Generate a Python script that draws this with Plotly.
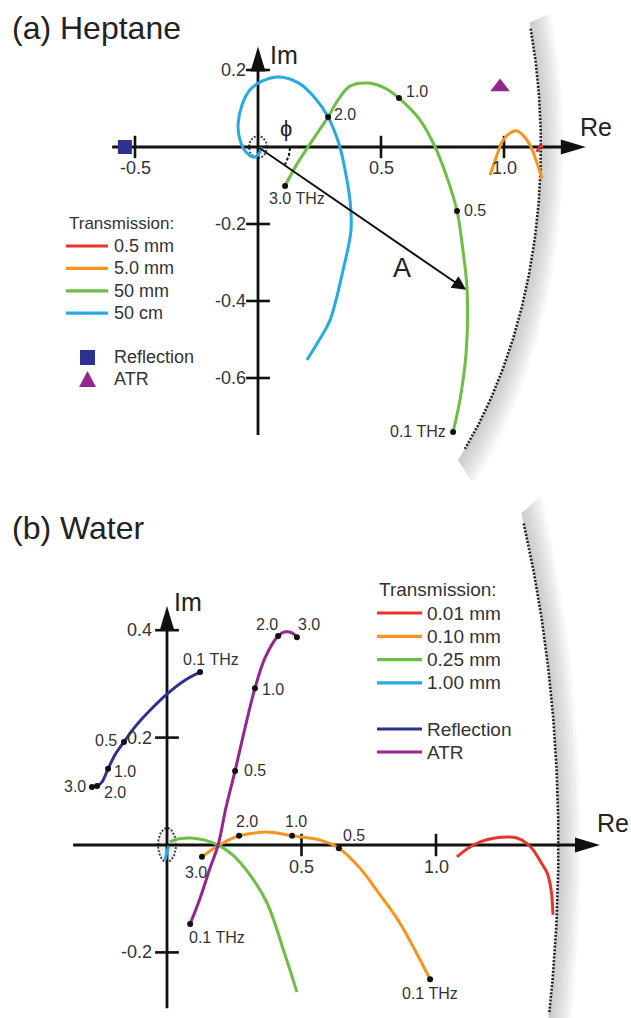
import numpy as np
import plotly.graph_objects as go

# ===================== DATA =====================
# ---- (a) Heptane : complex transfer function, Re / Im ----
A_T05MM_RE = [1.134, 1.142, 1.150, 1.159]
A_T05MM_IM = [-0.013, -0.003, 0.003, 0.000]

A_T5MM_RE = [0.943, 0.967, 0.992, 1.020, 1.049, 1.077, 1.106, 1.130, 1.154]
A_T5MM_IM = [-0.073, -0.029, 0.013, 0.034, 0.042, 0.031, 0.005, -0.034, -0.081]

A_T50MM_RE = [0.793, 0.821, 0.846, 0.850, 0.833, 0.809, 0.772, 0.720, 0.659, 0.573,
              0.516, 0.447, 0.374, 0.325, 0.285, 0.244, 0.203, 0.154, 0.110]
A_T50MM_IM = [-0.740, -0.657, -0.535, -0.371, -0.268, -0.166, -0.086, 0.000, 0.070, 0.127,
              0.153, 0.166, 0.158, 0.122, 0.078, 0.039, 0.000, -0.049, -0.101]

A_T50CM_RE = [0.199, 0.250, 0.293, 0.346, 0.378, 0.374, 0.350, 0.333, 0.309, 0.285, 0.232,
              0.171, 0.089, 0.016, -0.033, -0.065, -0.081, -0.073, -0.049, -0.016, 0.008, 0.012]
A_T50CM_IM = [-0.553, -0.500, -0.449, -0.319, -0.216, -0.138, -0.047, 0.000, 0.044, 0.078, 0.127,
              0.164, 0.182, 0.171, 0.148, 0.109, 0.057, 0.018, -0.013, -0.026, -0.013, 0.000]

A_DOT_RE = [0.793, 0.809, 0.573, 0.285, 0.110]
A_DOT_IM = [-0.740, -0.166, 0.127, 0.078, -0.101]
A_DOT_LBL = ["0.1 THz", "0.5", "1.0", "2.0", "3.0 THz"]

A_REFL_RE, A_REFL_IM = [-0.541], [0.0]
A_ATR_RE, A_ATR_IM = [0.984], [0.156]
A_VECTOR_TIP = [0.846, -0.371]          # "A" vector end point

A_RE_TICKS = [-0.5, 0.5, 1.0]
A_RE_TICK_LBL = ["-0.5", "0.5", "1.0"]
A_IM_TICKS = [0.2, -0.2, -0.4, -0.6]
A_IM_TICK_LBL = ["0.2", "-0.2", "-0.4", "-0.6"]
A_RE_AXIS = [-0.593, 1.30]
A_IM_AXIS = [-0.748, 0.24]
A_LIMIT_R = 1.15
A_LIMIT_DEG = [15.5, -43.0]

# ---- (b) Water ----
B_T001_RE = [1.078, 1.119, 1.164, 1.219, 1.264, 1.301, 1.335, 1.361, 1.390, 1.413, 1.428, 1.435]
B_T001_IM = [-0.022, -0.006, 0.006, 0.013, 0.015, 0.013, 0.004, -0.009, -0.032, -0.052, -0.084, -0.130]

B_T010_RE = [0.978, 0.922, 0.859, 0.792, 0.717, 0.639, 0.569, 0.465, 0.372, 0.268, 0.216, 0.190, 0.160, 0.130]
B_T010_IM = [-0.250, -0.196, -0.140, -0.093, -0.043, -0.006, 0.009, 0.017, 0.024, 0.017, 0.006, -0.002, -0.011, -0.022]

B_T025_RE = [0.483, 0.439, 0.372, 0.309, 0.245, 0.197, 0.141, 0.086, 0.041, 0.011]
B_T025_IM = [-0.274, -0.205, -0.108, -0.056, -0.019, -0.002, 0.009, 0.013, 0.011, 0.006]

B_T100_RE = [0.007, 0.000, -0.007]
B_T100_IM = [-0.002, -0.013, -0.028]

B_REFL_RE = [0.123, 0.067, 0.004, -0.063, -0.119, -0.160, -0.193, -0.219, -0.242, -0.260, -0.279]
B_REFL_IM = [0.322, 0.307, 0.283, 0.251, 0.220, 0.192, 0.168, 0.142, 0.117, 0.110, 0.108]

B_ATR_RE = [0.086, 0.123, 0.160, 0.190, 0.219, 0.253, 0.290, 0.327, 0.364, 0.413, 0.439, 0.465, 0.483]
B_ATR_IM = [-0.147, -0.099, -0.043, 0.000, 0.069, 0.138, 0.218, 0.292, 0.348, 0.389, 0.397, 0.395, 0.387]

B_REFL_DOT_RE = [0.123, -0.160, -0.219, -0.260, -0.279]
B_REFL_DOT_IM = [0.322, 0.192, 0.142, 0.110, 0.108]
B_ATR_DOT_RE = [0.086, 0.253, 0.327, 0.413, 0.483]
B_ATR_DOT_IM = [-0.147, 0.138, 0.292, 0.389, 0.387]
B_T010_DOT_RE = [0.978, 0.639, 0.465, 0.268, 0.130]
B_T010_DOT_IM = [-0.250, -0.006, 0.017, 0.017, -0.022]
B_DOT_LBL = ["0.1 THz", "0.5", "1.0", "2.0", "3.0"]

B_RE_TICKS = [0.5, 1.0]
B_RE_TICK_LBL = ["0.5", "1.0"]
B_IM_TICKS = [0.4, 0.2, -0.2]
B_IM_TICK_LBL = ["0.4", "0.2", "-0.2"]
B_RE_AXIS = [-0.349, 1.58]
B_IM_AXIS = [-0.304, 0.43]
B_LIMIT_R = 1.455
B_LIMIT_DEG = [24.3, -12.5]

# ===================== STYLE / GEOMETRY =====================
W, H = 631, 1018
RED, ORANGE, GREEN, BLUE = "#e8342a", "#f7941d", "#6cbe45", "#27aae1"
NAVY, PURPLE = "#2e3192", "#93278f"
TXT = "#333333"
FONT = "Liberation Sans"

GEO = {
    "a": dict(x0=258, sx=246, y0=147, sy=385, top=0, bot=480, xa="x", ya="y"),
    "b": dict(x0=167, sx=269, y0=845, sy=537, top=490, bot=1018, xa="x2", ya="y2"),
}

fig = go.Figure()
annotations, shapes = [], []


def add_line(p, xs, ys, color, width=3, dash=None, spline=True, fill=None, fillcolor=None):
    g = GEO[p]
    fig.add_trace(go.Scatter(
        x=xs, y=ys, mode="lines", xaxis=g["xa"], yaxis=g["ya"],
        line=dict(color=color, width=width, dash=dash, shape="spline" if spline else "linear"),
        fill=fill, fillcolor=fillcolor, hoverinfo="skip", showlegend=False))


def add_markers(p, xs, ys, symbol="circle", size=6, color="#111", lw=0):
    g = GEO[p]
    fig.add_trace(go.Scatter(
        x=xs, y=ys, mode="markers", xaxis=g["xa"], yaxis=g["ya"],
        marker=dict(symbol=symbol, size=size, color=color, line=dict(width=lw, color=color)),
        hoverinfo="skip", showlegend=False))


def add_text(p, x, y, text, size, xanchor="center", xshift=0, yshift=0, color=TXT):
    g = GEO[p]
    annotations.append(dict(x=x, y=y, xref=g["xa"], yref=g["ya"], text=text, showarrow=False,
                            xanchor=xanchor, yanchor="middle", xshift=xshift, yshift=yshift,
                            font=dict(size=size, color=color, family=FONT)))


def limit_band(p, r, degs, width_px):
    g = GEO[p]
    r2 = r + width_px / g["sx"]
    t = np.radians(np.linspace(degs[0] + 0.8, degs[1] - 2.0, 90))
    n = 7
    for k in range(1, n + 1):
        rk = r + (r2 - r) * k / n
        xs = np.concatenate([r * np.cos(t), rk * np.cos(t[::-1])])
        ys = np.concatenate([r * np.sin(t), rk * np.sin(t[::-1])])
        add_line(p, list(xs) + [xs[0]], list(ys) + [ys[0]], "rgba(0,0,0,0)", width=0,
                 spline=False, fill="toself", fillcolor="rgba(110,110,110,0.055)")
    tt = np.radians(np.linspace(degs[0], degs[1], 120))
    add_line(p, r * np.cos(tt), r * np.sin(tt), "#222", width=2.6, dash="2px,1.6px", spline=False)


def origin_ring(p, rx_px, ry_px, filled=False):
    g = GEO[p]
    t = np.linspace(0, 2 * np.pi, 60)
    add_line(p, rx_px / g["sx"] * np.cos(t), ry_px / g["sy"] * np.sin(t), "#444", width=2,
             dash="2px,1.6px", spline=False,
             fill="toself" if filled else None, fillcolor="rgba(210,210,210,0.35)")


def axes(p, re_axis, im_axis, re_ticks, re_lbl, im_ticks, im_lbl, re_lbl_dy, im_lbl_dx, head):
    g = GEO[p]
    add_line(p, re_axis, [0, 0], "#111", width=2.8, spline=False)
    add_line(p, [0, 0], im_axis, "#111", width=2.8, spline=False)
    add_markers(p, re_ticks, [0] * len(re_ticks), symbol="line-ns", size=16, color="#111", lw=2.6)
    add_markers(p, [0] * len(im_ticks), im_ticks, symbol="line-ew", size=17, color="#111", lw=2.6)
    L, hw = head
    tipx = re_axis[1] + 8 / g["sx"]
    bx = tipx - L / g["sx"]
    shapes.append(dict(type="path", xref=g["xa"], yref=g["ya"], fillcolor="#111", line=dict(width=0),
                       path=f"M {tipx},0 L {bx},{hw / g['sy']} L {bx},{-hw / g['sy']} Z"))
    tipy = im_axis[1] + 8 / g["sy"]
    by = tipy - L / g["sy"]
    shapes.append(dict(type="path", xref=g["xa"], yref=g["ya"], fillcolor="#111", line=dict(width=0),
                       path=f"M 0,{tipy} L {hw / g['sx']},{by} L {-hw / g['sx']},{by} Z"))
    for v, s in zip(re_ticks, re_lbl):
        add_text(p, v, 0, s, 18, "center", 0, re_lbl_dy)
    for v, s in zip(im_ticks, im_lbl):
        add_text(p, 0, v, s, 18, "right", im_lbl_dx, 0)
    return tipx, tipy


FREQ_SIZE = 16

# ===================== PANEL (a) =====================
limit_band("a", A_LIMIT_R, A_LIMIT_DEG, 22)
origin_ring("a", 9, 11)
tx, ty = axes("a", A_RE_AXIS, A_IM_AXIS, A_RE_TICKS, A_RE_TICK_LBL, A_IM_TICKS, A_IM_TICK_LBL,
              -21, -10, (25, 7.5))
add_text("a", 0, ty, "Im", 25, "left", 10, -8, color="#222")
add_text("a", tx, 0, "Re", 25, "center", 10, 20, color="#222")

add_line("a", A_T50CM_RE, A_T50CM_IM, BLUE)
add_line("a", A_T50MM_RE, A_T50MM_IM, GREEN)
add_line("a", A_T5MM_RE, A_T5MM_IM, ORANGE)
add_line("a", A_T05MM_RE, A_T05MM_IM, RED)
add_markers("a", A_DOT_RE, A_DOT_IM, size=6)
add_markers("a", A_REFL_RE, A_REFL_IM, symbol="square", size=14, color=NAVY)
add_markers("a", A_ATR_RE, A_ATR_IM, symbol="triangle-up", size=17, color=PURPLE)

A_LBL_POS = [("right", -5, 0), ("left", 5, 0), ("left", 5, 7), ("left", 4, 2), ("left", -18, -13)]
for x, y, s, (anc, dx, dy) in zip(A_DOT_RE, A_DOT_IM, A_DOT_LBL, A_LBL_POS):
    add_text("a", x, y, s, FREQ_SIZE, anc, dx, dy)

# vector A and angle phi
ga = GEO["a"]
annotations.append(dict(x=A_VECTOR_TIP[0], y=A_VECTOR_TIP[1], ax=0, ay=0, xref="x", yref="y",
                        axref="x", ayref="y", text="", showarrow=True, arrowhead=2, arrowsize=1.4,
                        arrowwidth=2, arrowcolor="#111", standoff=0))
ang = np.arctan2(A_VECTOR_TIP[1] * ga["sy"], A_VECTOR_TIP[0] * ga["sx"])
tp = np.linspace(-0.03, ang + 0.02, 20)
add_line("a", 32 * np.cos(tp) / ga["sx"], 32 * np.sin(tp) / ga["sy"], "#111", width=2,
         dash="3px,2px", spline=False)
add_text("a", 28 / ga["sx"], 19 / ga["sy"], "ϕ", 22, "center", color="#222")
add_text("a", A_VECTOR_TIP[0] * 0.68, A_VECTOR_TIP[1] * 0.68, "A", 27, "center", 2, -24, color="#222")

# ===================== PANEL (b) =====================
limit_band("b", B_LIMIT_R, B_LIMIT_DEG, 22)
origin_ring("b", 9, 17, filled=True)
tx, ty = axes("b", B_RE_AXIS, B_IM_AXIS, B_RE_TICKS, B_RE_TICK_LBL, B_IM_TICKS, B_IM_TICK_LBL,
              -22, -13, (25, 7.5))
add_text("b", 0, ty, "Im", 25, "left", 5, 4, color="#222")
add_text("b", tx, 0, "Re", 25, "left", -5, 22, color="#222")

add_line("b", B_T001_RE, B_T001_IM, RED)
add_line("b", B_T010_RE, B_T010_IM, ORANGE)
add_line("b", B_T025_RE, B_T025_IM, GREEN)
add_line("b", B_T100_RE, B_T100_IM, BLUE)
add_line("b", B_REFL_RE, B_REFL_IM, NAVY)
add_line("b", B_ATR_RE, B_ATR_IM, PURPLE)
add_markers("b", B_REFL_DOT_RE, B_REFL_DOT_IM, size=6)
add_markers("b", B_ATR_DOT_RE, B_ATR_DOT_IM, size=6)
add_markers("b", B_T010_DOT_RE, B_T010_DOT_IM, size=6)

REFL_POS = [("center", 11, 13), ("right", -5, 1), ("left", 4, -3), ("left", 5, -7), ("right", -4, 1)]
ATR_POS = [("left", -3, -14), ("left", 7, 0), ("left", 5, -1), ("center", -11, 12), ("left", -1, 13)]
T010_POS = [("center", 0, -14), ("left", 2, 13), ("center", 4, 14), ("center", 8, 14), ("center", -6, -16)]
for xs, ys, pos in [(B_REFL_DOT_RE, B_REFL_DOT_IM, REFL_POS), (B_ATR_DOT_RE, B_ATR_DOT_IM, ATR_POS),
                    (B_T010_DOT_RE, B_T010_DOT_IM, T010_POS)]:
    for x, y, s, (anc, dx, dy) in zip(xs, ys, B_DOT_LBL, pos):
        add_text("b", x, y, s, FREQ_SIZE, anc, dx, dy)

# ===================== TITLES & LEGENDS (paper, pixel based) =====================
def P(px, py):
    return px / W, 1 - py / H


def ptext(px, py, text, size, xanchor="left", color=TXT):
    x, y = P(px, py)
    annotations.append(dict(x=x, y=y, xref="paper", yref="paper", text=text, showarrow=False,
                            xanchor=xanchor, yanchor="middle", font=dict(size=size, color=color, family=FONT)))


def pline(x0, x1, py, color):
    a, b = P(x0, py)
    c, _ = P(x1, py)
    shapes.append(dict(type="line", xref="paper", yref="paper", x0=a, x1=c, y0=b, y1=b,
                       line=dict(color=color, width=3.2)))


ptext(10, 28, "(a) Heptane", 32, color="#222")
ptext(10, 528, "(b) Water", 32, color="#222")

LEG_A = [("0.5 mm", RED), ("5.0 mm", ORANGE), ("50 mm", GREEN), ("50 cm", BLUE)]
ptext(67, 224, "Transmission:", 17)
for i, (lab, col) in enumerate(LEG_A):
    py = 246 + i * 22.4
    pline(66, 108, py, col)
    ptext(112, py, lab, 18)
x0, y0 = P(80, 350)
x1, y1 = P(95, 365)
shapes.append(dict(type="rect", xref="paper", yref="paper", x0=x0, x1=x1, y0=y1, y1=y0,
                   fillcolor=NAVY, line=dict(width=0)))
ptext(112, 357, "Reflection", 18)
a1, b1 = P(87.5, 371)
a2, b2 = P(79, 387)
a3, b3 = P(96, 387)
shapes.append(dict(type="path", xref="paper", yref="paper", fillcolor=PURPLE, line=dict(width=0),
                   path=f"M {a1},{b1} L {a2},{b2} L {a3},{b3} Z"))
ptext(112, 379, "ATR", 18)

LEG_B = [("0.01 mm", RED), ("0.10 mm", ORANGE), ("0.25 mm", GREEN), ("1.00 mm", BLUE)]
ptext(377, 589, "Transmission:", 19)
for i, (lab, col) in enumerate(LEG_B):
    py = 613 + i * 23.3
    pline(377, 422, py, col)
    ptext(425, py, lab, 19)
for lab, col, py in [("Reflection", NAVY, 729), ("ATR", PURPLE, 752)]:
    pline(377, 422, py, col)
    ptext(425, py, lab, 19)

# ===================== LAYOUT =====================
lay = {}
for p, (xk, yk) in {"a": ("xaxis", "yaxis"), "b": ("xaxis2", "yaxis2")}.items():
    g = GEO[p]
    xr = [(0 - g["x0"]) / g["sx"], (W - g["x0"]) / g["sx"]]
    yr = [(g["y0"] - g["bot"]) / g["sy"], (g["y0"] - g["top"]) / g["sy"]]
    dom = [1 - g["bot"] / H, 1 - g["top"] / H]
    lay[xk] = dict(range=xr, domain=[0, 1], visible=False, fixedrange=True, anchor=g["ya"])
    lay[yk] = dict(range=yr, domain=dom, visible=False, fixedrange=True, anchor=g["xa"])

fig.update_layout(width=W, height=H, margin=dict(l=0, r=0, t=0, b=0),
                  paper_bgcolor="white", plot_bgcolor="white", showlegend=False,
                  font=dict(family=FONT, color=TXT), annotations=annotations, shapes=shapes, **lay)

fig.write_html("out.html", config={"displayModeBar": False},
               post_script="document.body.style.margin='0';document.body.style.overflow='hidden';")
